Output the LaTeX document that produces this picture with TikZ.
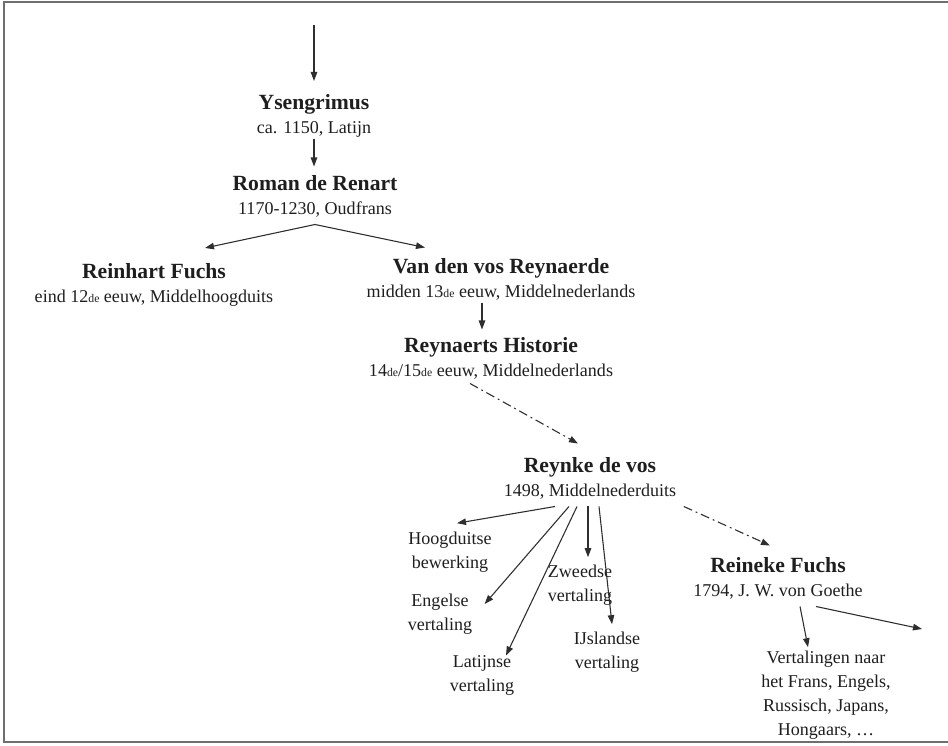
\documentclass[tikz,border=0pt]{standalone}
\usepackage{fontspec}
\setmainfont{Liberation Serif}
\usetikzlibrary{arrows.meta,calc}
\definecolor{figink}{HTML}{1E1E1E}
\definecolor{figline}{HTML}{2E2E2E}
\definecolor{figframe}{HTML}{6E6E6E}
\newcommand{\worktitle}[1]{{\fontsize{12}{13.3}\selectfont\bfseries #1}}
\newcommand{\rangsuf}[1]{{\fontsize{6.5}{7}\selectfont #1}}
\begin{document}
\begin{tikzpicture}[x=0.554pt, y=-0.554pt,
  work/.style={align=center, inner sep=4pt, text=figink,
    font=\fontsize{10}{13.3}\selectfont},
  arr/.style={figline, line width=0.6pt, -{Triangle[length=5pt, width=3.6pt]}},
  dasharr/.style={arr, dash pattern=on 5pt off 2.2pt on 1pt off 2.2pt}]
\useasboundingbox (0,0) rectangle (948,745);
\draw[figframe, line width=1.1pt] (948,2) -- (4,2) -- (4,742) -- (948,742);

% The line of the fox epic, from the Latin source to the Dutch versions.
\node[work] (ysen) at (314,116) {\worktitle{Ysengrimus}\\ca. 1150, Latijn};
\node[work] (roman) at (315,196) {\worktitle{Roman de Renart}\\1170-1230, Oudfrans};
\node[work] (reinhart) at (154,285)
  {\worktitle{Reinhart Fuchs}\\eind 12\rangsuf{de} eeuw, Middelhoogduits};
\node[work] (vanden) at (501,279)
  {\worktitle{Van den vos Reynaerde}\\midden 13\rangsuf{de} eeuw, Middelnederlands};
\node[work] (historie) at (491,358)
  {\worktitle{Reynaerts Historie}\\14\rangsuf{de}/15\rangsuf{de} eeuw, Middelnederlands};
\node[work] (reynke) at (590,478) {\worktitle{Reynke de vos}\\1498, Middelnederduits};

% Translations that branch off the Low German print, and Goethe's reworking.
\node[work] (hoog) at (450,552) {Hoogduitse\\bewerking};
\node[work] (engels) at (440,614) {Engelse\\vertaling};
\node[work] (latijn) at (482,675) {Latijnse\\vertaling};
\node[work] (zweeds) at (580,585) {Zweedse\\vertaling};
\node[work] (ijsland) at (607,652) {IJslandse\\vertaling};
\node[work] (reineke) at (778,578) {\worktitle{Reineke Fuchs}\\1794, J. W. von Goethe};
\node[work] (vertal) at (826,695)
  {Vertalingen naar\\het Frans, Engels,\\Russisch, Japans,\\Hongaars, …};

\coordinate (origin) at (314,25);
\coordinate (further) at (922,629);
\draw[arr] (origin) -- ($(ysen.north)+(0,-6)$);
\draw[arr] ($(ysen.south)+(0,-6)$) -- ($(ysen.south |- roman.north)+(0,-1)$);
\draw[arr] (roman.south) -- ($(reinhart.north)+(51,-8)$);
\draw[arr] (roman.south) -- ($(vanden.north)+(-76,-3)$);
\draw[arr] ($(vanden.south)+(-19,-4)$) -- ($(historie.north)+(-9,0)$);
\draw[dasharr] ($(historie.south)+(-21,-3)$) -- ($(reynke.north)+(-12,-6)$);
\draw[arr] ($(reynke.south)+(-35,0)$) -- ($(hoog.north)+(7,-1)$);
\draw[arr] ($(reynke.south)+(-21,0)$) -- ($(engels.east)+(5,-10)$);
\draw[arr] ($(reynke.south)+(-13,0)$) -- ($(latijn.north)+(24,8)$);
\draw[arr] ($(reynke.south)+(-2,0)$) -- ($(zweeds.north)+(8,0)$);
\draw[arr] ($(reynke.south)+(9,0)$) -- ($(ijsland.north)+(5,0)$);
\draw[dasharr] (reynke.south east) -- ($(reineke.north)+(-8,-4)$);
\draw[arr] ($(reineke.south)+(22,0)$) -- ($(vertal.north)+(-18,4)$);
\draw[arr] ($(reineke.south)+(38,0)$) -- (further);
\end{tikzpicture}
\end{document}
